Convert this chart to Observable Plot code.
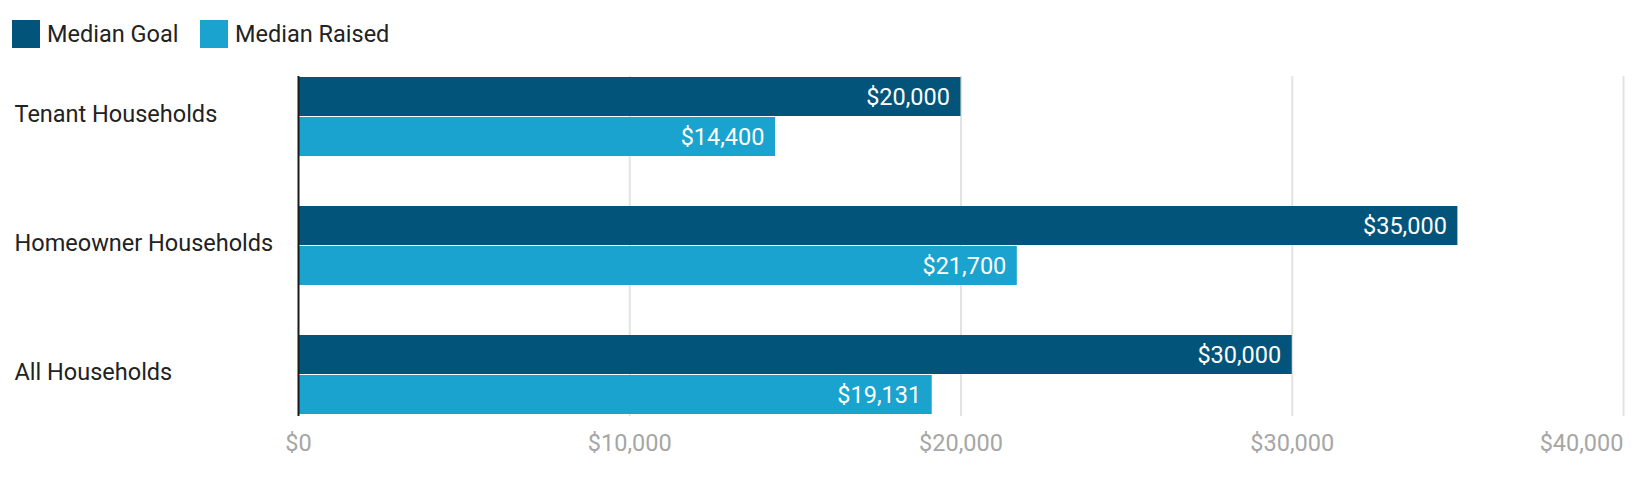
<!DOCTYPE html>
<html>
<head>
<meta charset="utf-8">
<script src="https://cdn.jsdelivr.net/npm/d3@7"></script>
<script src="https://cdn.jsdelivr.net/npm/@observablehq/plot@0.6"></script>
<style>
  html, body { margin: 0; padding: 0; background: #fff; }
  body { width: 1644px; height: 481px; overflow: hidden; font-family: Roboto, "Noto Sans", sans-serif; }
  .legend { height: 60px; position: relative; }
  .item { position: absolute; top: 20px; display: flex; align-items: center; height: 28px; font-size: 23.5px; color: #222; }
  .sw { width: 28px; height: 28px; margin-right: 7px; flex: none; }
  svg { display: block; }
</style>
</head>
<body>
<div class="legend" id="legend"></div>
<div id="chart"></div>
<script>
const categories = ["Tenant Households", "Homeowner Households", "All Households"];
const seriesNames = ["Median Goal", "Median Raised"];
const medianGoal = [20000, 35000, 30000];
const medianRaised = [14400, 21700, 19131];
const xTicks = [0, 10000, 20000, 30000, 40000];
const colors = ["#02547a", "#1aa3ce"];

const fmt = d => "$" + d3.format(",")(d);
const FS = 23.5;

const goalData = categories.map((c, i) => ({category: c, value: medianGoal[i]}));
const raisedData = categories.map((c, i) => ({category: c, value: medianRaised[i]}));

// legend
const legend = document.getElementById("legend");
const lefts = [12, 200];
seriesNames.forEach((n, i) => {
  const it = document.createElement("div");
  it.className = "item";
  it.style.left = lefts[i] + "px";
  it.innerHTML = `<div class="sw" style="background:${colors[i]}"></div><span>${n}</span>`;
  legend.appendChild(it);
});

const chart = Plot.plot({
  width: 1644,
  height: 421,
  marginLeft: 298,
  marginRight: 21,
  marginTop: 16,
  marginBottom: 65,
  style: {fontFamily: "Roboto, sans-serif", fontSize: FS + "px", background: "#fff"},
  x: {domain: [0, 40000], axis: null, label: null},
  y: {domain: categories, paddingInner: 0.3846, paddingOuter: 0, axis: null, label: null},
  marks: [
    Plot.ruleX(xTicks.slice(1), {stroke: "#e3e3e3", strokeWidth: 2}),
    Plot.barX(goalData, {x: "value", y: "category", fill: colors[0], insetBottom: 40}),
    Plot.barX(raisedData, {x: "value", y: "category", fill: colors[1], insetTop: 40}),
    Plot.ruleX([0], {stroke: "#1a1a1a", strokeWidth: 2}),
    Plot.text(goalData, {x: "value", y: "category", text: d => fmt(d.value), dy: -20, dx: -11, textAnchor: "end", fill: "#fff", fontSize: FS}),
    Plot.text(raisedData, {x: "value", y: "category", text: d => fmt(d.value), dy: 20, dx: -11, textAnchor: "end", fill: "#fff", fontSize: FS}),
    Plot.text(categories, {x: 0, y: d => d, text: d => d, textAnchor: "start", dx: -284, dy: -3, fill: "#222", fontSize: FS}),
    Plot.axisX(xTicks.slice(0, -1), {tickSize: 0, tickPadding: 18, tickFormat: fmt, fill: "#a6a6a6", fontSize: FS, textAnchor: "middle", label: null}),
    Plot.axisX(xTicks.slice(-1), {tickSize: 0, tickPadding: 18, tickFormat: fmt, fill: "#a6a6a6", fontSize: FS, textAnchor: "end", label: null})
  ]
});
document.getElementById("chart").appendChild(chart);
</script>
</body>
</html>
